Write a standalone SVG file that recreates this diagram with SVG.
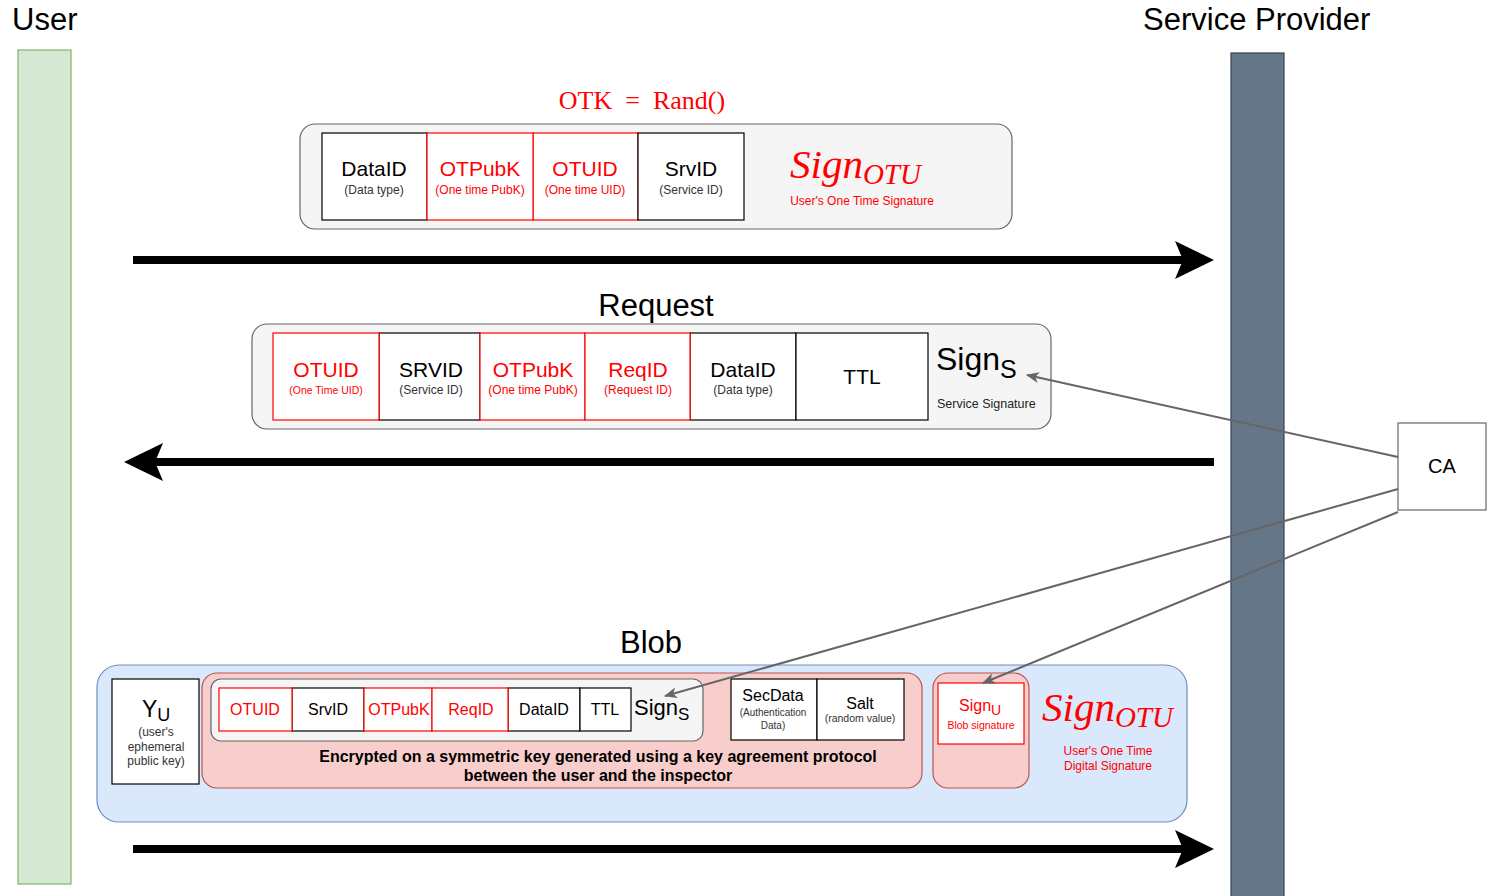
<svg xmlns="http://www.w3.org/2000/svg" width="1499" height="896" viewBox="0 0 1499 896">
<defs>
<style>
.sans{font-family:"Liberation Sans",Arial,sans-serif}
.serif{font-family:"Liberation Serif","Times New Roman",serif}
.red{fill:#ff0000}
.blk{fill:#000000}
.cellb{fill:#ffffff;stroke:#000000;stroke-width:1.2}
.cellr{fill:#ffffff;stroke:#ff0000;stroke-width:1.2}
.gray{fill:#f5f5f5;stroke:#666666;stroke-width:1.2}
.pink{fill:#f8cecc;stroke:#b85450;stroke-width:1.2}
.blue{fill:#dae8fc;stroke:#6c8ebf;stroke-width:1.2}
.big{stroke:#000000;stroke-width:8;fill:none}
.thin{stroke:#666666;stroke-width:2;fill:none}
</style>
<marker id="bigArrow" viewBox="0 -20 40 40" refX="8" refY="0" markerWidth="40" markerHeight="40" markerUnits="userSpaceOnUse" orient="auto">
<path d="M0,-19 L39,0 L0,19 L8,0 Z" fill="#000000"/>
</marker>
<marker id="smallArrow" viewBox="0 -7 14 14" refX="12" refY="0" markerWidth="14" markerHeight="14" markerUnits="userSpaceOnUse" orient="auto">
<path d="M0,-5.5 L13,0 L0,5.5 L3.5,0 Z" fill="#666666"/>
</marker>
</defs>
<rect width="1499" height="896" fill="#ffffff"/>

<g id="user">
<rect x="18" y="50" width="53" height="834" fill="#d5e8d4" stroke="#82b366" stroke-width="1.2"/>
<text x="12" y="30" class="sans blk" font-size="31">User</text>
</g>
<g id="service-provider">
<rect x="1231" y="53" width="53" height="850" fill="#647687" stroke="#314354" stroke-width="1.2"/>
<text x="1143" y="30" class="sans blk" font-size="31">Service Provider</text>
</g>

<g id="otk-message">
<text x="642" y="109" class="serif red" font-size="26" text-anchor="middle" xml:space="preserve">OTK  =  Rand()</text>
<rect x="300" y="124" width="712" height="105" rx="15" class="gray"/>
<rect x="322" y="133" width="105" height="87" class="cellb"/>
<rect x="533" y="133" width="105" height="87" class="cellr"/>
<rect x="427" y="133" width="106" height="87" class="cellr"/>
<rect x="638" y="133" width="106" height="87" class="cellb"/>
<g class="sans" text-anchor="middle">
<text x="374" y="176" font-size="21" class="blk">DataID</text>
<text x="374" y="194" font-size="12" fill="#333333">(Data type)</text>
<text x="480" y="176" font-size="21" class="red">OTPubK</text>
<text x="480" y="194" font-size="12" class="red">(One time PubK)</text>
<text x="585" y="176" font-size="21" class="red">OTUID</text>
<text x="585" y="194" font-size="12" class="red">(One time UID)</text>
<text x="691" y="176" font-size="21" class="blk">SrvID</text>
<text x="691" y="194" font-size="12" fill="#333333">(Service ID)</text>
<text x="862" y="205" font-size="12" class="red">User's One Time Signature</text>
</g>
<text x="790" y="178" class="serif red" font-style="italic" font-size="41">Sign<tspan font-size="29" dy="6">OTU</tspan></text>
</g>

<g id="request-message">
<text x="656" y="316" class="sans blk" font-size="31" text-anchor="middle">Request</text>
<rect x="252" y="324" width="799" height="105" rx="15" class="gray"/>
<rect x="379" y="333" width="101" height="87" class="cellb"/>
<rect x="690" y="333" width="106" height="87" class="cellb"/>
<rect x="796" y="333" width="132" height="87" class="cellb"/>
<rect x="273" y="333" width="106" height="87" class="cellr"/>
<rect x="480" y="333" width="105" height="87" class="cellr"/>
<rect x="585" y="333" width="105" height="87" class="cellr"/>
<g class="sans" text-anchor="middle">
<text x="326" y="377" font-size="21" class="red">OTUID</text>
<text x="326" y="394" font-size="10.5" class="red">(One Time UID)</text>
<text x="431" y="377" font-size="21" class="blk">SRVID</text>
<text x="431" y="394" font-size="12" fill="#333333">(Service ID)</text>
<text x="533" y="377" font-size="21" class="red">OTPubK</text>
<text x="533" y="394" font-size="12" class="red">(One time PubK)</text>
<text x="638" y="377" font-size="21" class="red">ReqID</text>
<text x="638" y="394" font-size="12" class="red">(Request ID)</text>
<text x="743" y="377" font-size="21" class="blk">DataID</text>
<text x="743" y="394" font-size="12" fill="#333333">(Data type)</text>
<text x="862" y="384" font-size="21" class="blk">TTL</text>
</g>
<text x="936" y="370" class="sans blk" font-size="32">Sign<tspan font-size="25" dy="8">S</tspan></text>
<text x="937" y="408" class="sans" fill="#222222" font-size="12.5">Service Signature</text>
</g>

<g id="ca">
<rect x="1398" y="423" width="88" height="87" fill="#ffffff" stroke="#666666" stroke-width="1.2"/>
<text x="1442" y="473" class="sans blk" font-size="20" text-anchor="middle">CA</text>
</g>

<g id="blob-message">
<text x="651" y="653" class="sans blk" font-size="31" text-anchor="middle">Blob</text>
<rect x="97" y="665" width="1090" height="157" rx="22" class="blue"/>
<rect x="112" y="679" width="87" height="105" class="cellb"/>
<text x="142" y="717" class="sans blk" font-size="23">Y<tspan font-size="18" dy="4">U</tspan></text>
<g class="sans" text-anchor="middle" font-size="12" fill="#333333">
<text x="156" y="736">(user's</text>
<text x="156" y="751">ephemeral</text>
<text x="156" y="765">public key)</text>
</g>
<rect x="202" y="673" width="720" height="115" rx="15" class="pink"/>
<rect x="211" y="679" width="492" height="62" rx="10" class="gray"/>
<rect x="292" y="688" width="72" height="43" class="cellb"/>
<rect x="508" y="688" width="72" height="43" class="cellb"/>
<rect x="580" y="688" width="51" height="43" class="cellb"/>
<rect x="219" y="688" width="73" height="43" class="cellr"/>
<rect x="364" y="688" width="68" height="43" class="cellr"/>
<rect x="432" y="688" width="76" height="43" class="cellr"/>
<g class="sans" text-anchor="middle" font-size="16">
<text x="255" y="715" class="red">OTUID</text>
<text x="328" y="715" class="blk">SrvID</text>
<text x="399" y="715" class="red">OTPubK</text>
<text x="471" y="715" class="red">ReqID</text>
<text x="544" y="715" class="blk">DataID</text>
<text x="605" y="715" class="blk">TTL</text>
</g>
<text x="634" y="715" class="sans blk" font-size="22">Sign<tspan font-size="17" dy="5">S</tspan></text>
<g class="sans blk" text-anchor="middle" font-size="16" font-weight="bold">
<text x="598" y="762">Encrypted on a symmetric key generated using a key agreement protocol</text>
<text x="598" y="781">between the user and the inspector</text>
</g>
<rect x="731" y="679" width="86" height="61" class="cellb"/>
<rect x="817" y="679" width="87" height="61" class="cellb"/>
<g class="sans" text-anchor="middle">
<text x="773" y="701" font-size="16" class="blk">SecData</text>
<text x="773" y="716" font-size="10" fill="#333333">(Authentication</text>
<text x="773" y="729" font-size="10" fill="#333333">Data)</text>
<text x="860" y="709" font-size="16" class="blk">Salt</text>
<text x="860" y="722" font-size="10.5" fill="#333333">(random value)</text>
</g>
<rect x="933" y="673" width="96" height="115" rx="15" class="pink"/>
<rect x="938" y="683" width="86" height="61" class="cellr"/>
<text x="959" y="711" class="sans red" font-size="16">Sign<tspan font-size="14" dy="4">U</tspan></text>
<text x="981" y="729" class="sans red" font-size="10.5" text-anchor="middle">Blob signature</text>
<text x="1042" y="721" class="serif red" font-style="italic" font-size="41">Sign<tspan font-size="29" dy="6">OTU</tspan></text>
<g class="sans red" text-anchor="middle" font-size="12">
<text x="1108" y="755">User's One Time</text>
<text x="1108" y="770">Digital Signature</text>
</g>
</g>

<g id="connectors">
<line x1="133" y1="260" x2="1183" y2="260" class="big" marker-end="url(#bigArrow)"/>
<line x1="1214" y1="462" x2="155" y2="462" class="big" marker-end="url(#bigArrow)"/>
<line x1="133" y1="849" x2="1183" y2="849" class="big" marker-end="url(#bigArrow)"/>
<line x1="1398" y1="457" x2="1027" y2="375" class="thin" marker-end="url(#smallArrow)"/>
<line x1="1398" y1="489" x2="665" y2="696" class="thin" marker-end="url(#smallArrow)"/>
<line x1="1398" y1="512" x2="983" y2="683" class="thin" marker-end="url(#smallArrow)"/>
</g>
</svg>
